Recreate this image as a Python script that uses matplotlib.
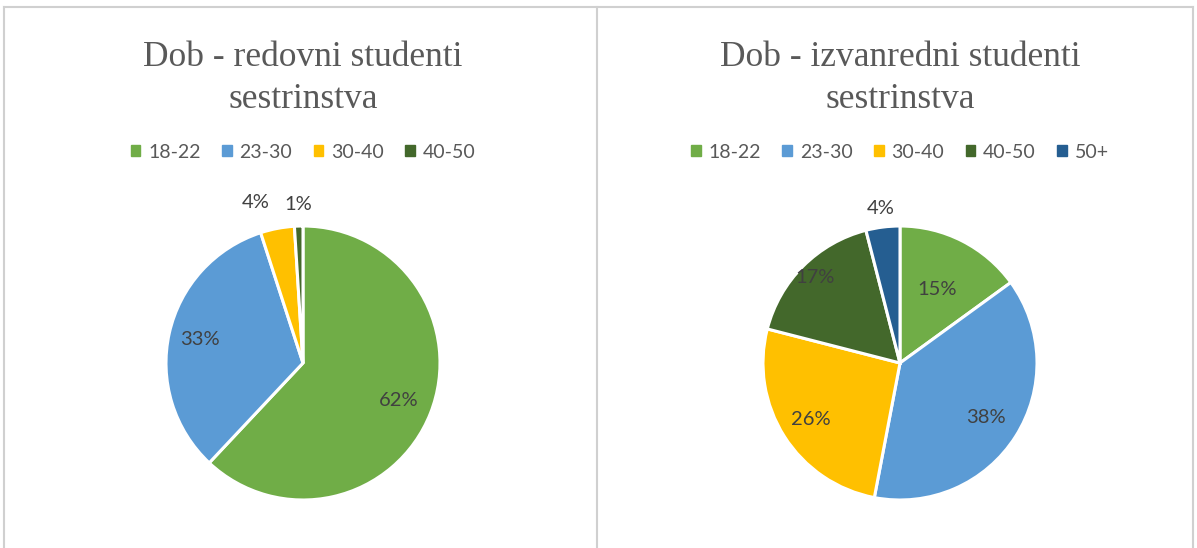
import matplotlib
matplotlib.use("Agg")
import matplotlib.pyplot as plt
import numpy as np

# ---- data ----
left_title = "Dob - redovni studenti\nsestrinstva"
left_labels = ["18-22", "23-30", "30-40", "40-50"]
left_values = [62, 33, 4, 1]

right_title = "Dob - izvanredni studenti\nsestrinstva"
right_labels = ["18-22", "23-30", "30-40", "40-50", "50+"]
right_values = [15, 38, 26, 17, 4]

# ---- style ----
colors = ["#70AD47", "#5B9BD5", "#FFC000", "#43682B", "#255E91"]
left_label_r = [0.75, 0.77, 1.22, 1.16]
left_label_dang = [0, 0, 5.5, 0]
right_label_r = [0.60, 0.74, 0.77, 0.88, 1.14]
right_label_dang = [0, 0, 0, 0, 0]

W, H = 1197, 548
fig = plt.figure(figsize=(W / 100, H / 100), dpi=100)
fig.patch.set_facecolor("white")

def px_axes(cx, cy, r):
    return fig.add_axes([(cx - r) / W, (H - cy - r) / H, 2 * r / W, 2 * r / H])

def draw_panel(cx, title, labels, values, label_r, label_dang):
    ax = px_axes(cx, 363, 137)
    wedges, _ = ax.pie(values, colors=colors[:len(values)], startangle=90,
                       counterclock=False, radius=1.0,
                       wedgeprops=dict(edgecolor="white", linewidth=2.2))
    ax.set_xlim(-1, 1)
    ax.set_ylim(-1, 1)
    ax.set_aspect("equal")
    for w, v, r, da in zip(wedges, values, label_r, label_dang):
        ang = np.deg2rad((w.theta1 + w.theta2) / 2 + da)
        ax.text(r * np.cos(ang), r * np.sin(ang), f"{v}%",
                ha="center", va="center", fontsize=14.5, color="#404040",
                family="Lato")
    # title
    fig.text(cx / W, 1 - 79 / H, title, ha="center", va="center",
             fontsize=25.5, color="#595959", family="Liberation Serif",
             linespacing=1.36)
    # legend
    handles = [plt.Rectangle((0, 0), 1, 1, color=colors[i]) for i in range(len(labels))]
    fig.legend(handles, labels, loc="center", bbox_to_anchor=(cx / W, 1 - 152 / H),
               ncol=len(labels), frameon=False, handlelength=0.5, handleheight=0.5,
               handletextpad=0.4, columnspacing=1.1,
               prop=dict(family="Lato", size=14), labelcolor="#595959")

draw_panel(303, left_title, left_labels, left_values, left_label_r, left_label_dang)
draw_panel(900, right_title, right_labels, right_values, right_label_r, right_label_dang)

# borders
from matplotlib.lines import Line2D
bc = "#D0D0D0"
fig.add_artist(Line2D([4 / W, 4 / W], [0, 1 - 7 / H], color=bc, lw=1.5))
fig.add_artist(Line2D([4 / W, 1193 / W], [1 - 7 / H, 1 - 7 / H], color=bc, lw=1.5))
fig.add_artist(Line2D([597 / W, 597 / W], [0, 1 - 7 / H], color=bc, lw=1.5))
fig.add_artist(Line2D([1193 / W, 1193 / W], [0, 1 - 7 / H], color=bc, lw=1.5))

fig.savefig("out.png", dpi=100, facecolor="white")
